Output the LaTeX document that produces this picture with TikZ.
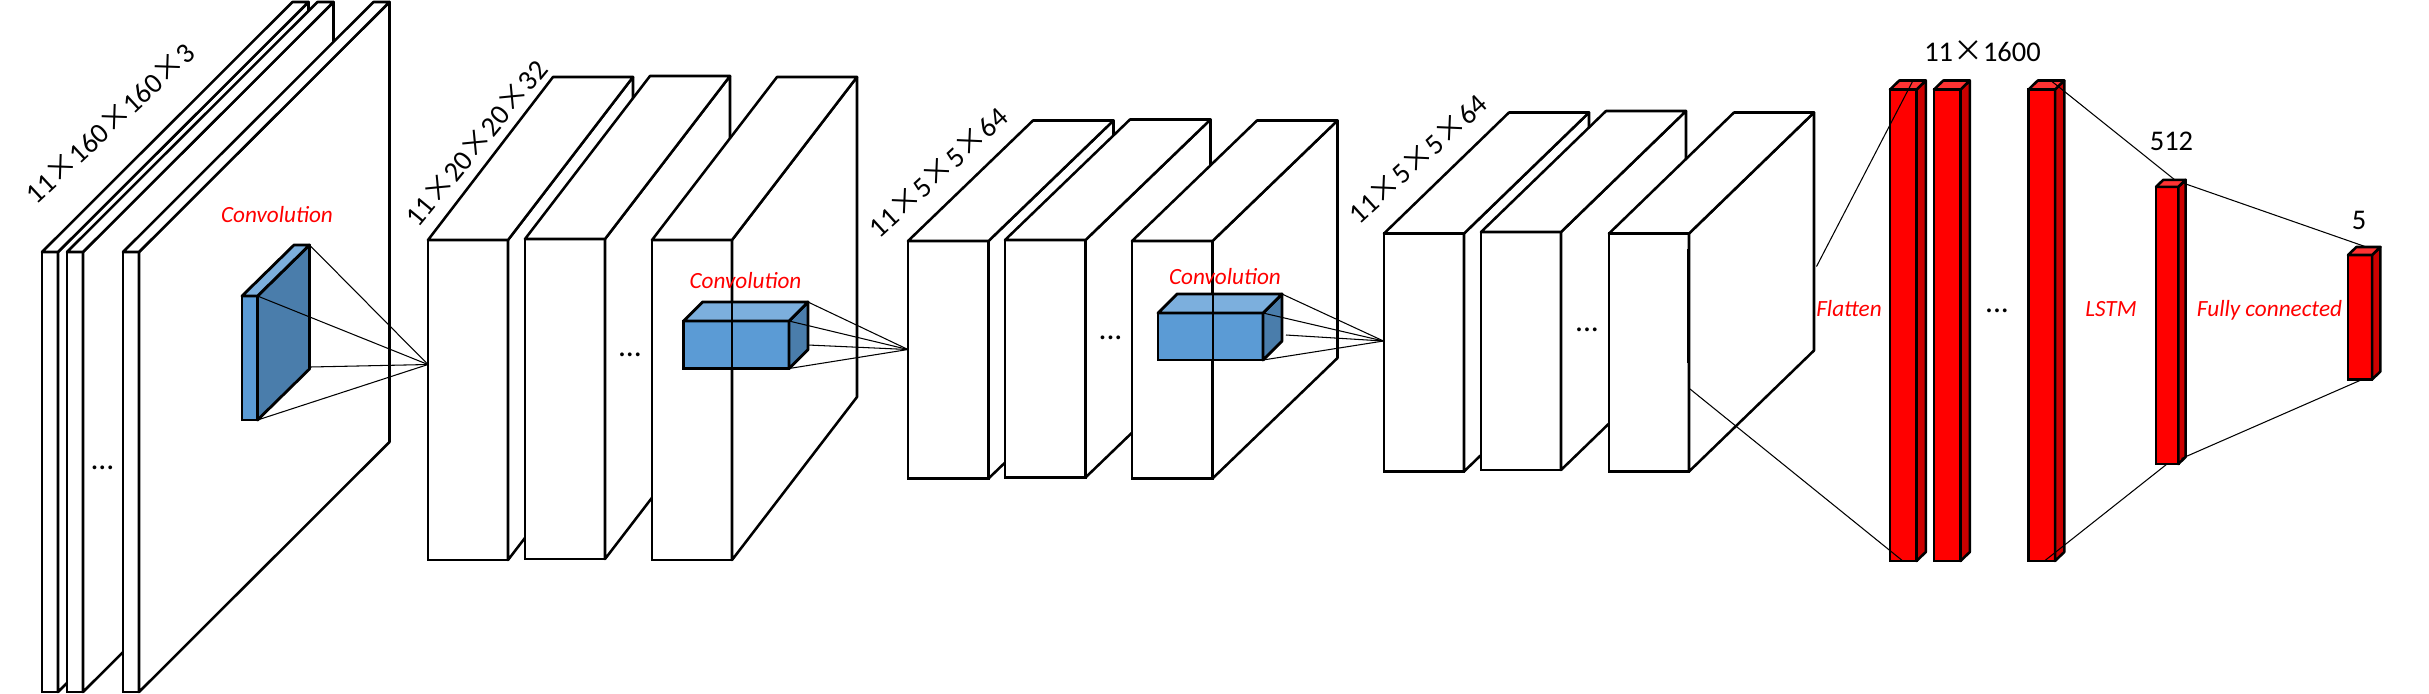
\documentclass[tikz,border=0pt]{standalone}
\usepackage{fontspec}
\setmainfont{Carlito}
\newfontfamily\cjk{Noto Sans CJK SC}
\usetikzlibrary{positioning}

\newcommand{\cross}{{\cjk\fontsize{8.5}{10}\selectfont ×}}

\tikzset{
    whitefront/.style = {draw, fill=white, line width=0.72pt},
    whitetop/.style = {draw, fill=white, line width=0.72pt, line join=round},
    whiteside/.style = {draw, fill=white, line width=0.72pt, line join=round},
    bluefront/.style = {draw, fill=boxblue, line width=0.8pt},
    bluetop/.style = {draw, fill=boxbluetop, line width=0.8pt, line join=round},
    blueside/.style = {draw, fill=boxblueside, line width=0.8pt, line join=round},
    redfront/.style = {draw, fill=red, line width=0.72pt},
    redtop/.style = {draw, fill=boxredtop, line width=0.72pt, line join=round},
    redside/.style = {draw, fill=boxredside, line width=0.72pt, line join=round},
    dimlabel/.style = {font=\fontsize{8.1}{10}\selectfont, inner sep=0pt},
    oplabel/.style = {font=\fontsize{6.6}{8}\selectfont\itshape, text=red, inner sep=0pt},
    dotslabel/.style = {font=\fontsize{9}{10}\selectfont, inner sep=0pt},
    fan/.style = {line width=0.3pt},
    hardedge/.style = {line width=0.72pt},
}

\definecolor{boxblue}{HTML}{5B9BD5}
\definecolor{boxbluetop}{HTML}{7CAFDD}
\definecolor{boxblueside}{HTML}{4A7DAB}
\definecolor{boxredtop}{HTML}{FF3333}
\definecolor{boxredside}{HTML}{CC0000}

% style prefix, name, x, y, width, height, depth x, depth y
\newcommand{\cuboid}[8]{
    \node[#1front, inner sep=0pt, outer sep=0pt, anchor=north west,
        minimum width=#5*0.01cm, minimum height=#6*0.01cm] (#2) at (#3,#4) {};
    \coordinate (#2backtop) at ([shift={(#7,-#8)}]#2.north east);
    \coordinate (#2backbot) at ([shift={(#7,-#8)}]#2.south east);
    \draw[#1side] (#2.north east) -- (#2backtop) -- (#2backbot) -- (#2.south east) -- cycle;
    \draw[#1top] (#2.north west) -- ([shift={(#7,-#8)}]#2.north west) -- (#2backtop) -- (#2.north east) -- cycle;
}

\begin{document}
\begin{tikzpicture}
    [
        x = 0.01cm,
        y = -0.01cm,
    ]

    \useasboundingbox (0,0) rectangle (2429,693);

    % input frames
    \foreach \name/\xpos in {frameA/42,frameB/67,frameC/123}{
            \cuboid{white}{\name}{\xpos}{252}{16}{440}{250.5}{250}
        }
    \node[dotslabel] (dotsA) at (102.5,468) {...};
    \cuboid{blue}{convA}{242}{296}{15.5}{124}{52}{51}
    \node[oplabel] (opA) at (277,215) {Convolution};
    \node[dimlabel, rotate=43] (dimA) at (110,123) {11\cross 160\cross 160\cross 3};

    % first feature maps
    \foreach \name/\xpos/\ypos in {mapA/428/240,mapB/525/239,mapC/652/240}{
            \cuboid{white}{\name}{\xpos}{\ypos}{80}{320}{125}{163}
        }
    \node[dotslabel] (dotsB) at (630,355) {...};
    \cuboid{blue}{convB}{683.5}{321}{105.5}{47.5}{19}{19}
    \coordinate (edgeBtop) at (732,302);
    \coordinate (edgeBbot) at (732,411.5);
    \draw[hardedge] (edgeBtop) -- (edgeBbot);
    \node[oplabel] (opB) at (745.5,281) {Convolution};
    \node[dimlabel, rotate=50.5] (dimB) at (476,143) {11\cross 20\cross 20\cross 32};

    % second feature maps
    \foreach \name/\xpos/\ypos in {mapD/908/241,mapE/1005/240,mapF/1132/241}{
            \cuboid{white}{\name}{\xpos}{\ypos}{80.5}{237.5}{125}{120.5}
        }
    \node[dotslabel] (dotsC) at (1110.5,337.5) {...};
    \cuboid{blue}{convC}{1158}{313}{105}{47}{19}{19}
    \coordinate (edgeCtop) at (1213,265.5);
    \coordinate (edgeCbot) at (1213,416.5);
    \draw[hardedge] (edgeCtop) -- (edgeCbot);
    \node[oplabel] (opC) at (1225,277) {Convolution};
    \node[dimlabel, rotate=42.5] (dimC) at (938,172) {11\cross 5\cross 5\cross 64};

    % third feature maps
    \foreach \name/\xpos/\ypos in {mapG/1384/233.5,mapH/1481/232,mapI/1609/233.5}{
            \cuboid{white}{\name}{\xpos}{\ypos}{80}{238}{125}{121}
        }
    \node[dotslabel] (dotsD) at (1587,330) {...};
    \coordinate (edgeDtop) at (1688,249);
    \coordinate (edgeDbot) at (1688,363);
    \draw[hardedge] (edgeDtop) -- (edgeDbot);
    \node[dimlabel, rotate=42.5] (dimD) at (1417.5,158.5) {11\cross 5\cross 5\cross 64};

    % flatten, lstm and output columns
    \foreach \name/\xpos in {flatA/1890,flatB/1934,flatC/2028.5}{
            \cuboid{red}{\name}{\xpos}{89.5}{26.5}{471.5}{9.3}{9}
        }
    \cuboid{red}{lstm}{2156}{186.8}{22.3}{277.2}{7.3}{7}
    \cuboid{red}{out}{2348}{255}{24}{124.5}{8.4}{8}
    \node[dotslabel] (dotsE) at (1997,310.5) {...};
    \node[dimlabel] (dimE) at (1982.5,51) {11\cross 1600};
    \node[dimlabel] (dimF) at (2171.5,141.5) {512};
    \node[dimlabel] (dimG) at (2359,220) {5};
    \node[oplabel] (opD) at (1849,308.5) {Flatten};
    \node[oplabel] (opE) at (2111,309.5) {LSTM};
    \node[oplabel] (opF) at (2269.5,310) {Fully connected};

    % convolution fans
    \coordinate (apexA) at (428,364.5);
    \coordinate (apexB) at (908,349.5);
    \coordinate (apexC) at (1383.5,341);
    \coordinate (convAtail) at (310,367);
    \coordinate (convBtail) at (808,345);
    \coordinate (convCtail) at (1286,335);
    \foreach \from in {convA.north east,convAbacktop,convAtail,convA.south east}{
            \draw[fan] (\from) -- (apexA);
        }
    \foreach \from in {convB.north east,convBbacktop,convBtail,convB.south east}{
            \draw[fan] (\from) -- (apexB);
        }
    \foreach \from in {convC.north east,convCbacktop,convCtail,convC.south east}{
            \draw[fan] (\from) -- (apexC);
        }

    % dense connectors
    \coordinate (flatUp) at (1816.5,266.5);
    \coordinate (flatDown) at (1690,389);
    \coordinate (flatAtop) at (1912.5,81.5);
    \coordinate (flatAbot) at (1903.5,561.5);
    \coordinate (flatCtop) at (2052,81.5);
    \coordinate (flatCbot) at (2045,560.5);
    \coordinate (lstmTop) at (2175,180);
    \coordinate (lstmBot) at (2167,464);
    \coordinate (lstmOutTop) at (2181.5,182.5);
    \coordinate (lstmOutBot) at (2181.5,458.5);
    \coordinate (outTop) at (2365,246.5);
    \coordinate (outBot) at (2361,380);
    \draw[fan] (flatUp) -- (flatAtop);
    \draw[fan] (flatDown) -- (flatAbot);
    \draw[fan] (flatCtop) -- (lstmTop);
    \draw[fan] (flatCbot) -- (lstmBot);
    \draw[fan] (lstmOutTop) -- (outTop);
    \draw[fan] (lstmOutBot) -- (outBot);

\end{tikzpicture}
\end{document}
